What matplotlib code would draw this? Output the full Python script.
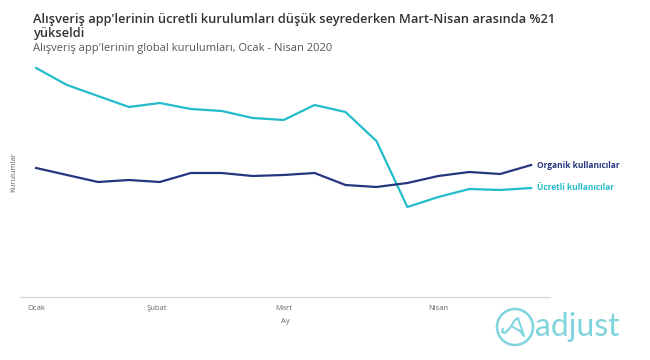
import matplotlib
matplotlib.use("Agg")
import matplotlib.pyplot as plt
from matplotlib.patches import Ellipse
from matplotlib.lines import Line2D

weeks = list(range(17))
ucretli = [229, 212, 201, 190, 194, 188, 186, 179, 177, 192, 185, 156, 90, 100, 108, 107, 109]
organik = [129, 122, 115, 117, 115, 124, 124, 121, 122, 124, 112, 110, 114, 121, 125, 123, 132]
tick_pos = [0, 3.9, 8, 13]
tick_labels = ["Ocak", "Şubat", "Mart", "Nisan"]

navy = "#26357f"
cyan = "#22bccb"

W, H = 650, 360
fig = plt.figure(figsize=(6.5, 3.6), dpi=100)
ax = fig.add_axes([20/W, 63/H, 530/W, 250/H])
ax.plot(weeks, ucretli, color=cyan, lw=1.6)
ax.plot(weeks, organik, color=navy, lw=1.6)
ax.set_xlim(-0.52, 16.61)
ax.set_ylim(0, 250)
for s in ["top", "right", "left"]:
    ax.spines[s].set_visible(False)
ax.spines["bottom"].set_color("#d9d9d9")
ax.spines["bottom"].set_linewidth(1)
ax.set_yticks([])
ax.set_xticks(tick_pos)
ax.set_xticklabels(tick_labels, fontsize=5.5, color="#666666", family="Open Sans")
ax.tick_params(axis="x", length=0, pad=6)
ax.set_xlabel("Ay", fontsize=5.5, color="#666666", family="Open Sans", labelpad=4)
ax.set_ylabel("Kurulumlar", fontsize=5.5, color="#666666", family="Open Sans", labelpad=2)

ax.text(16.2, organik[-1], "Organik kullanıcılar", color=navy, fontsize=6, fontweight="bold",
        family="Open Sans", va="center", ha="left")
ax.text(16.2, ucretli[-1], "Ücretli kullanıcılar", color=cyan, fontsize=6, fontweight="bold",
        family="Open Sans", va="center", ha="left")

fig.text(33/W, 1 - 19/H, "Alışveriş app'lerinin ücretli kurulumları düşük seyrederken Mart-Nisan arasında %21",
         fontsize=9.3, color="#333333", family="Open Sans", fontweight="semibold", va="center", ha="left")
fig.text(33/W, 1 - 33/H, "yükseldi",
         fontsize=9.3, color="#333333", family="Open Sans", fontweight="semibold", va="center", ha="left")
fig.text(33/W, 1 - 48/H, "Alışveriş app'lerinin global kurulumları, Ocak - Nisan 2020",
         fontsize=8, color="#555555", family="Open Sans", va="center", ha="left")

logo = "#7fd4dd"
fig.patches.append(Ellipse((515/W, 1 - 327/H), 36/W, 36/H, transform=fig.transFigure, fill=False,
                           edgecolor=logo, lw=1.8))
px = [503, 502, 505, 510, 515, 518, 521, 524, 520, 513]
py = [329, 332, 333, 328, 320, 318, 327, 336, 331, 327]
fig.lines.append(Line2D([x/W for x in px], [1 - y/H for y in py], transform=fig.transFigure,
                        color=logo, lw=1.5, solid_joinstyle="round", solid_capstyle="round"))
fig.text(535/W, 1 - 327/H, "adjust", fontsize=23, color=logo, family="Lato",
         va="center", ha="left")

fig.savefig("out.png", dpi=100)
